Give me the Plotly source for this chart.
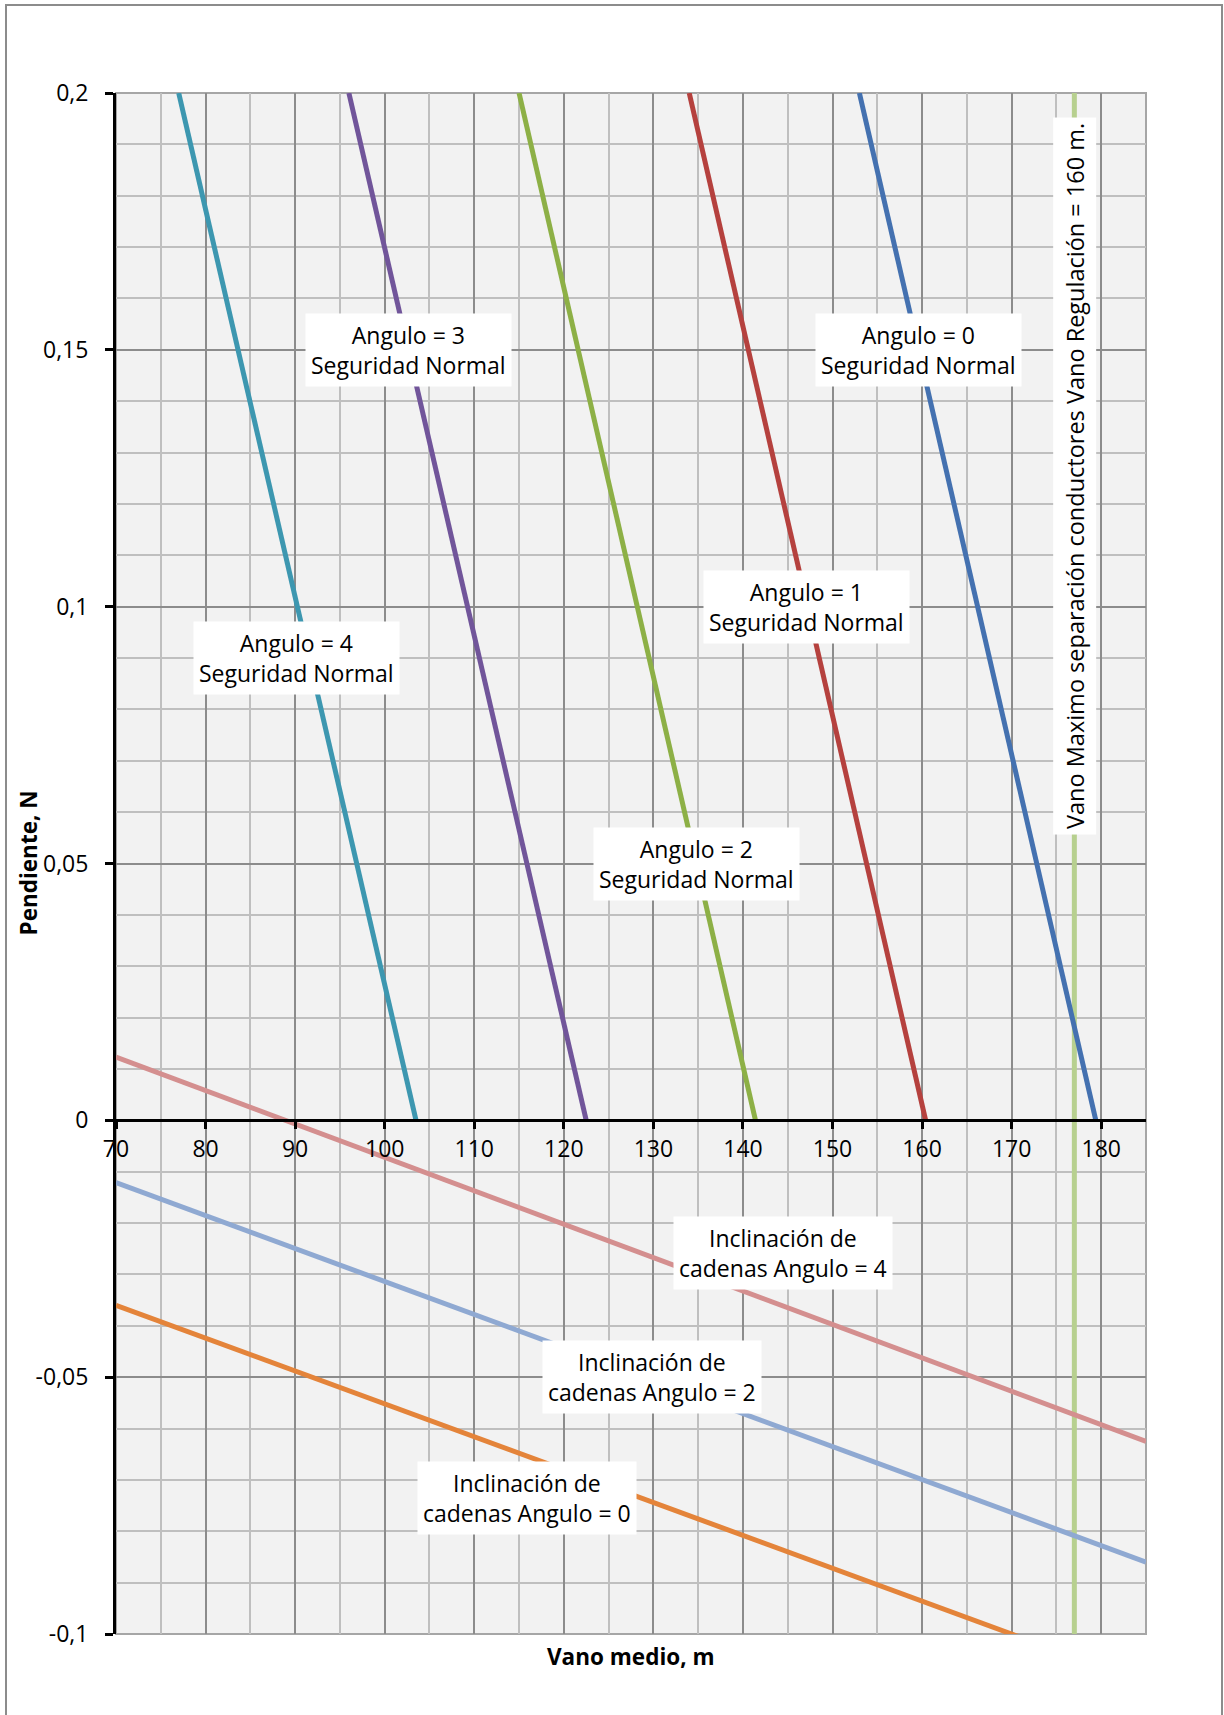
import plotly.graph_objects as go

# ---------------- data ----------------
pendiente_seg = [0.2, 0.0]
seg_angulo0_vano = [153.0, 179.4]
seg_angulo1_vano = [134.0, 160.4]
seg_angulo2_vano = [115.0, 141.4]
seg_angulo3_vano = [96.0, 122.5]
seg_angulo4_vano = [77.0, 103.5]

vano_inc = [70, 185]
inc_angulo4 = [0.0123, -0.0625]
inc_angulo2 = [-0.0121, -0.0860]
inc_angulo0 = [-0.0360, -0.1096]

vano_regulacion_x = [177.0, 177.0]
vano_regulacion_y = [-0.1, 0.2]

x_tickvals = [70, 80, 90, 100, 110, 120, 130, 140, 150, 160, 170, 180]
x_ticktext = ["70", "80", "90", "100", "110", "120", "130", "140", "150", "160", "170", "180"]
y_tickvals = [-0.1, -0.05, 0, 0.05, 0.1, 0.15, 0.2]
y_ticktext = ["-0,1", "-0,05", "0", "0,05", "0,1", "0,15", "0,2"]

FONT = "Open Sans"
FS = 23

fig = go.Figure()

def add_line(x, y, color, width=5):
    fig.add_trace(go.Scatter(x=x, y=y, mode="lines",
                             line=dict(color=color, width=width),
                             showlegend=False, hoverinfo="skip"))

add_line(vano_regulacion_x, vano_regulacion_y, "#B7D08F", 5)
add_line(vano_inc, inc_angulo4, "#D48F8F")
add_line(vano_inc, inc_angulo2, "#8FA9D2")
add_line(vano_inc, inc_angulo0, "#E4843A")
add_line(seg_angulo4_vano, pendiente_seg, "#3D97B0")
add_line(seg_angulo3_vano, pendiente_seg, "#71559A")
add_line(seg_angulo2_vano, pendiente_seg, "#8DB046")
add_line(seg_angulo1_vano, pendiente_seg, "#B5413E")
add_line(seg_angulo0_vano, pendiente_seg, "#4471B0")

def label(x, y, text, angle=0, size=FS):
    fig.add_annotation(x=x, y=y, xref="x", yref="y", text=text, showarrow=False,
                       bgcolor="white", borderpad=5, textangle=angle,
                       font=dict(family=FONT, size=size, color="black"), align="center")

label(102.7, 0.150, "Angulo = 3<br>Seguridad Normal")
label(159.6, 0.150, "Angulo = 0<br>Seguridad Normal")
label(147.1, 0.100, "Angulo = 1<br>Seguridad Normal")
label(90.1, 0.090, "Angulo = 4<br>Seguridad Normal")
label(134.8, 0.050, "Angulo = 2<br>Seguridad Normal")
label(144.5, -0.0258, "Inclinación de<br>cadenas Angulo = 4")
label(129.8, -0.050, "Inclinación de<br>cadenas Angulo = 2")
label(115.9, -0.0735, "Inclinación de<br>cadenas Angulo = 0")
label(177.0, 0.1255, "Vano Maximo separación conductores Vano Regulación = 160 m.", angle=-90, size=23.5)

# axis titles
fig.add_annotation(x=0.5, y=0, xref="paper", yref="paper", yanchor="middle",
                   yshift=-22, text="<b>Vano medio, m</b>", showarrow=False,
                   font=dict(family=FONT, size=FS - 0.5, color="black"))
fig.add_annotation(x=0, y=0.5, xref="paper", yref="paper", xanchor="center",
                   xshift=-88, text="<b>Pendiente, N</b>", showarrow=False, textangle=-90,
                   font=dict(family=FONT, size=FS - 0.5, color="black"))

# outer border of the chart area
W, H = 1224, 1715
L, R, T, B = 116, 78, 93, 81
pw, ph = W - L - R, H - T - B
fig.add_shape(type="rect", xref="paper", yref="paper",
              x0=(6 - L) / pw, x1=(1222 - L) / pw,
              y0=(H - B - 1730) / ph, y1=(H - B - 5) / ph,
              line=dict(color="#8C8C8C", width=2), layer="below")
fig.add_shape(type="rect", xref="paper", yref="paper", x0=0, x1=1, y0=0, y1=1,
              line=dict(color="#A6A6A6", width=2), layer="below")

fig.update_layout(
    width=W, height=H,
    margin=dict(l=L, r=R, t=T, b=B),
    paper_bgcolor="white", plot_bgcolor="#F2F2F2",
    font=dict(family=FONT, size=FS, color="black"),
    showlegend=False,
    xaxis=dict(range=[70, 185], tickmode="array", tickvals=x_tickvals, ticktext=x_ticktext,
               anchor="free", position=1/3,
               showline=True, linecolor="black", linewidth=3,
               ticks="outside", ticklen=7, tickwidth=3, tickcolor="black",
               showgrid=True, gridcolor="#8C8C8C", gridwidth=1.5,
               minor=dict(dtick=5, tick0=70, showgrid=True, gridcolor="#BFBFBF", gridwidth=1.5),
               zeroline=False, tickfont=dict(family=FONT, size=FS)),
    yaxis=dict(range=[-0.1, 0.2], tickmode="array", tickvals=y_tickvals, ticktext=y_ticktext,
               showline=True, linecolor="black", linewidth=3,
               ticks="outside", ticklen=8, tickwidth=3, tickcolor="black",
               ticklabelstandoff=12,
               showgrid=True, gridcolor="#8C8C8C", gridwidth=1.5,
               minor=dict(dtick=0.01, tick0=0, showgrid=True, gridcolor="#BFBFBF", gridwidth=1.5),
               zeroline=False, tickfont=dict(family=FONT, size=FS)),
)

fig.write_html("out.html")
